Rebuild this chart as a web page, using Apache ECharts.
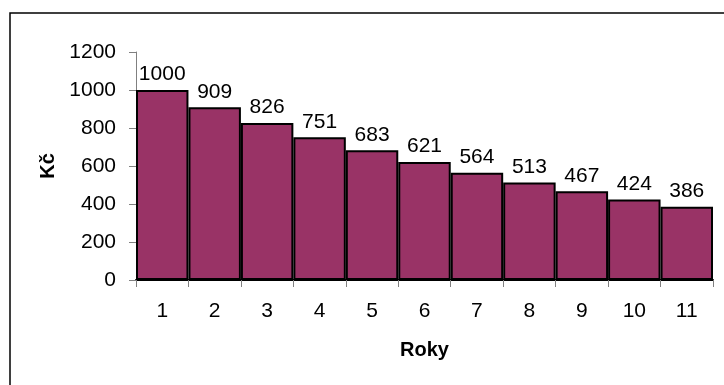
<!DOCTYPE html>
<html>
<head>
<meta charset="utf-8">
<script src="https://cdn.jsdelivr.net/npm/echarts@6/dist/echarts.min.js"></script>
<style>
  html, body { margin: 0; padding: 0; background: #fff; }
  #chart { width: 724px; height: 385px; }
</style>
</head>
<body>
<div id="chart"></div>
<script>
// Hodnota v jednotlivých letech
const years = ['1', '2', '3', '4', '5', '6', '7', '8', '9', '10', '11'];
const values = [1000, 909, 826, 751, 683, 621, 564, 513, 467, 424, 386];
const yTicks = [0, 200, 400, 600, 800, 1000, 1200];

const FONT = '"Liberation Sans", Arial, sans-serif';

const chart = echarts.init(document.getElementById('chart'), null, { renderer: 'canvas' });

chart.setOption({
  animation: false,
  backgroundColor: '#ffffff',
  graphic: [{
    type: 'rect',
    shape: { x: 10, y: 13, width: 760, height: 420 },
    style: { fill: 'none', stroke: '#000', lineWidth: 1.5 },
    silent: true
  }],
  grid: { left: 136, right: 11, top: 52, bottom: 105, containLabel: false },
  xAxis: {
    type: 'category',
    data: years,
    name: 'Roky',
    nameLocation: 'middle',
    nameGap: 60,
    nameTextStyle: { fontFamily: FONT, fontSize: 20, fontWeight: 'bold', color: '#000' },
    axisLine: { lineStyle: { color: '#000', width: 2 } },
    axisTick: { show: true, length: 7, lineStyle: { color: '#808080', width: 1 } },
    axisLabel: { fontFamily: FONT, fontSize: 21, color: '#000', margin: 21 },
    splitLine: { show: false }
  },
  yAxis: {
    type: 'value',
    min: yTicks[0],
    max: yTicks[yTicks.length - 1],
    interval: yTicks[1] - yTicks[0],
    name: 'Kč',
    nameLocation: 'middle',
    nameGap: 76,
    nameRotate: 90,
    nameTextStyle: { fontFamily: FONT, fontSize: 20, fontWeight: 'bold', color: '#000' },
    axisLine: { show: true, lineStyle: { color: '#808080', width: 1 } },
    axisTick: { show: true, length: 7, lineStyle: { color: '#808080', width: 1 } },
    axisLabel: {
      fontFamily: FONT, fontSize: 21, color: '#000', margin: 20,
      formatter: v => String(v)
    },
    splitLine: { show: false }
  },
  series: [{
    type: 'bar',
    data: values,
    barCategoryGap: '0%',
    itemStyle: { color: '#993366', borderColor: '#000', borderWidth: 2 },
    label: {
      show: true,
      position: 'top',
      distance: 5,
      fontFamily: FONT,
      fontSize: 21,
      color: '#000'
    }
  }]
});
</script>
</body>
</html>
